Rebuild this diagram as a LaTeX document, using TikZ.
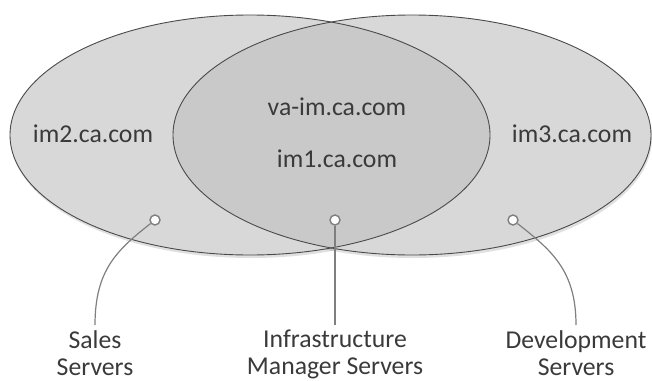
\documentclass[tikz,border=0pt]{standalone}
\usepackage{fontspec}
\setmainfont{Carlito}
\usetikzlibrary{positioning}

\definecolor{setfill}{HTML}{D8D8D8}
\definecolor{overlapfill}{HTML}{C9C9C9}
\definecolor{edgegray}{HTML}{4A4A4A}
\definecolor{leadgray}{HTML}{7F7F7F}
\definecolor{textgray}{HTML}{3A3A3A}

\begin{document}
\begin{tikzpicture}[x=1pt,y=-1pt,
  setline/.style={draw=edgegray, line width=0.9pt},
  host/.style={text=textgray, font=\fontsize{25.7}{27}\selectfont, inner sep=0pt, anchor=base},
  dot/.style={circle, draw=leadgray, fill=white!92!setfill, line width=1.4pt, inner sep=0pt, minimum size=10pt},
  lead/.style={draw=leadgray, line width=1.2pt},
  group/.style={text=textgray, font=\fontsize{25.7}{27}\selectfont, align=center, anchor=north, inner xsep=0pt, inner ysep=5pt}]
  \useasboundingbox (0,0) rectangle (652,380);

  % Soft shadow under both sets
  \fill[black, opacity=0.12] (251,138) ellipse (240 and 120);
  \fill[black, opacity=0.12] (413,138) ellipse (239 and 120);

  % Sales set and Development set
  \fill[setfill] (250,135) ellipse (240 and 120);
  \fill[setfill] (412,135) ellipse (239 and 120);

  % Overlap of both sets
  \begin{scope}
    \clip (250,135) ellipse (240 and 120);
    \fill[overlapfill] (412,135) ellipse (239 and 120);
  \end{scope}

  % Outlines
  \draw[setline] (250,135) ellipse (240 and 120);
  \draw[setline] (412,135) ellipse (239 and 120);

  % Host names
  \node[host] (im2) at (93,142) {im2.ca.com};
  \node[host] (vaim) at (337,115) {va-im.ca.com};
  \node[host] (im1) at (337,167) {im1.ca.com};
  \node[host] (im3) at (572,142) {im3.ca.com};

  % Markers
  \node[dot] (sdot) at (155,220) {};
  \node[dot] (idot) at (335,220) {};
  \node[dot] (ddot) at (513,220) {};

  % Group labels
  \node[group] (sales) at (95,325) {Sales\\Servers};
  \node[group] (infra) at (335,325) {Infrastructure\\Manager Servers};
  \node[group] (devel) at (576,325) {Development\\Servers};

  % Leaders from markers to labels
  \draw[lead] (sdot) .. controls +(-38,30) and +(0,-55) .. (sales.north);
  \draw[lead] (idot) -- (infra.north);
  \draw[lead] (ddot) .. controls +(38,30) and +(0,-55) .. (devel.north);
\end{tikzpicture}
\end{document}
